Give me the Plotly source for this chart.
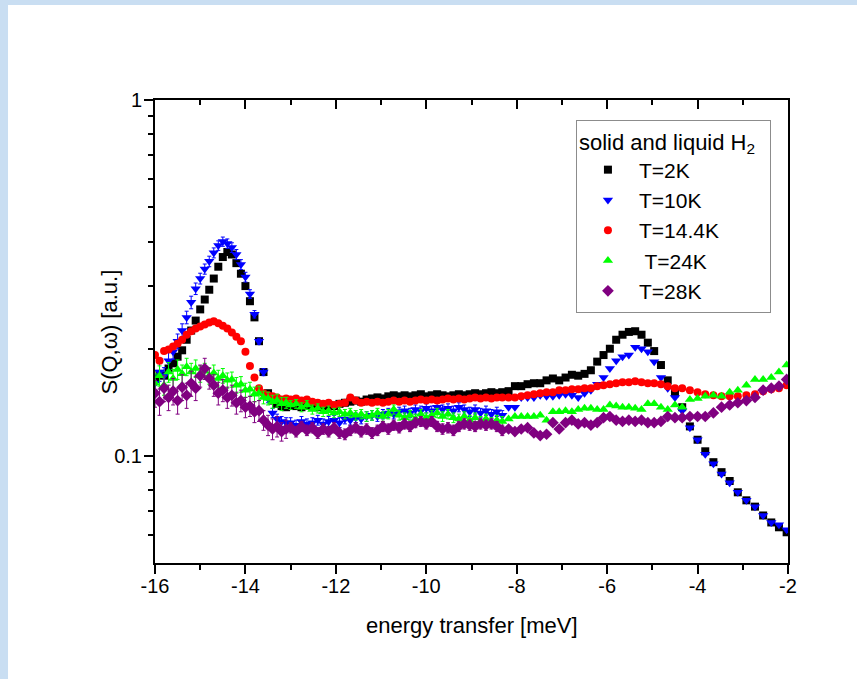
import plotly.graph_objects as go

# ---------------- data ----------------
energy = [
    -16.0, -15.9, -15.8, -15.7, -15.6, -15.5, -15.4, -15.3, -15.2, -15.1,
    -15.0, -14.9, -14.8, -14.7, -14.6, -14.5, -14.4, -14.3, -14.2, -14.1,
    -14.0, -13.9, -13.8, -13.7, -13.6, -13.5, -13.4, -13.3, -13.2, -13.1,
    -13.00, -12.88, -12.76, -12.64, -12.52, -12.40, -12.28, -12.16, -12.04, -11.92,
    -11.80, -11.68, -11.56, -11.44, -11.32, -11.20, -11.08, -10.96, -10.84, -10.72,
    -10.60, -10.48, -10.36, -10.24, -10.12, -10.00, -9.88, -9.76, -9.64, -9.52,
    -9.40, -9.28, -9.16, -9.04, -8.92, -8.80, -8.68, -8.56, -8.44, -8.32,
    -8.18, -8.04, -7.90, -7.76, -7.62, -7.48, -7.34, -7.20, -7.06, -6.92,
    -6.78, -6.64, -6.50, -6.36, -6.22, -6.08, -5.94, -5.80, -5.66, -5.52,
    -5.38, -5.24, -5.10, -4.96, -4.81, -4.66, -4.50, -4.34, -4.17, -4.00,
    -3.83, -3.65, -3.47, -3.29, -3.11, -2.92, -2.73, -2.55, -2.37, -2.20, -2.03,
]

s_2K = [
    0.165, 0.170, 0.168, 0.176, 0.182, 0.190, 0.198, 0.212, 0.225, 0.240,
    0.258, 0.275, 0.293, 0.315, 0.340, 0.362, 0.374, 0.368, 0.348, 0.325,
    0.300, 0.272, 0.245, 0.210, 0.172, 0.150, 0.143, 0.140, 0.138, 0.137,
    0.139, 0.138, 0.137, 0.139, 0.138, 0.137, 0.138, 0.139, 0.138, 0.140,
    0.141, 0.142, 0.143, 0.142, 0.144, 0.145, 0.146, 0.145, 0.147, 0.148,
    0.147, 0.148, 0.147, 0.148, 0.149, 0.147, 0.148, 0.149, 0.148, 0.147,
    0.148, 0.149, 0.148, 0.149, 0.150, 0.149, 0.150, 0.151, 0.150, 0.151,
    0.152, 0.157, 0.157, 0.159, 0.160, 0.160, 0.163, 0.165, 0.163, 0.166,
    0.169, 0.168, 0.170, 0.174, 0.184, 0.192, 0.200, 0.212, 0.219, 0.223,
    0.224, 0.219, 0.208, 0.197, 0.180, 0.163, 0.150, 0.137, 0.121, 0.111,
    0.103, 0.096, 0.090, 0.085, 0.079, 0.075, 0.072, 0.068, 0.065, 0.063, 0.061,
]

s_10K = [
    0.160, 0.172, 0.168, 0.185, 0.196, 0.210, 0.225, 0.245, 0.270, 0.295,
    0.315, 0.335, 0.352, 0.372, 0.390, 0.400, 0.395, 0.385, 0.368, 0.345,
    0.318, 0.285, 0.250, 0.210, 0.172, 0.145, 0.132, 0.127, 0.125, 0.124,
    0.124, 0.122, 0.125, 0.123, 0.124, 0.126, 0.123, 0.125, 0.126, 0.124,
    0.127, 0.126, 0.128, 0.127, 0.129, 0.130, 0.129, 0.131, 0.132, 0.131,
    0.133, 0.134, 0.132, 0.135, 0.134, 0.136, 0.134, 0.137, 0.135, 0.136,
    0.134, 0.137, 0.135, 0.133, 0.135, 0.132, 0.134, 0.131, 0.133, 0.130,
    0.137, 0.137, 0.146, 0.146, 0.146, 0.148, 0.147, 0.147, 0.148, 0.149,
    0.148, 0.146, 0.150, 0.153, 0.159, 0.166, 0.176, 0.185, 0.190, 0.192,
    0.202, 0.200, 0.196, 0.184, 0.166, 0.155, 0.146, 0.134, 0.120, 0.111,
    0.101, 0.095, 0.089, 0.084, 0.079, 0.075, 0.072, 0.068, 0.065, 0.064, 0.062,
]

s_14K = [
    0.192, 0.185, 0.197, 0.199, 0.203, 0.207, 0.212, 0.219, 0.224, 0.228,
    0.231, 0.234, 0.237, 0.239, 0.236, 0.232, 0.228, 0.222, 0.216, 0.210,
    0.196, 0.179, 0.166, 0.155, 0.150, 0.148, 0.147, 0.146, 0.144, 0.145,
    0.144, 0.145, 0.143, 0.144, 0.142, 0.141, 0.140, 0.141, 0.139, 0.140,
    0.141, 0.146, 0.143, 0.141, 0.142, 0.141, 0.142, 0.141, 0.142, 0.143,
    0.142, 0.143, 0.142, 0.143, 0.144, 0.143, 0.144, 0.143, 0.144, 0.145,
    0.144, 0.145, 0.144, 0.145, 0.146, 0.145, 0.146, 0.145, 0.146, 0.146,
    0.146, 0.146, 0.147, 0.148, 0.149, 0.150, 0.151, 0.151, 0.153, 0.153,
    0.154, 0.154, 0.155, 0.155, 0.157, 0.158, 0.159, 0.160, 0.161, 0.161,
    0.162, 0.161, 0.160, 0.160, 0.159, 0.157, 0.155, 0.155, 0.153, 0.151,
    0.149, 0.148, 0.147, 0.147, 0.147, 0.148, 0.149, 0.152, 0.154, 0.155, 0.158,
]

s_24K = [
    0.160, 0.168, 0.158, 0.172, 0.165, 0.175, 0.170, 0.178, 0.172, 0.176,
    0.170, 0.173, 0.168, 0.171, 0.165, 0.168, 0.163, 0.164, 0.158, 0.159,
    0.153, 0.154, 0.149, 0.150, 0.146, 0.145, 0.142, 0.143, 0.140, 0.141,
    0.139, 0.140, 0.137, 0.139, 0.135, 0.136, 0.133, 0.134, 0.132, 0.133,
    0.131, 0.132, 0.130, 0.131, 0.129, 0.130, 0.132, 0.129, 0.131, 0.135,
    0.130, 0.128, 0.130, 0.127, 0.131, 0.128, 0.130, 0.132, 0.129, 0.131,
    0.128, 0.127, 0.129, 0.126, 0.128, 0.125, 0.127, 0.124, 0.126, 0.125,
    0.127, 0.129, 0.129, 0.129, 0.129, 0.130, 0.126, 0.133, 0.133, 0.134,
    0.133, 0.135, 0.136, 0.136, 0.135, 0.135, 0.139, 0.138, 0.137, 0.137,
    0.136, 0.135, 0.140, 0.140, 0.137, 0.135, 0.139, 0.137, 0.144, 0.145,
    0.147, 0.148, 0.147, 0.151, 0.153, 0.158, 0.164, 0.164, 0.166, 0.172, 0.180,
]

s_28K = [
    0.150, 0.142, 0.155, 0.146, 0.152, 0.143, 0.156, 0.148, 0.160, 0.155,
    0.168, 0.176, 0.165, 0.158, 0.150, 0.153, 0.146, 0.148, 0.141, 0.143,
    0.137, 0.138, 0.133, 0.134, 0.126, 0.122, 0.119, 0.121, 0.117, 0.119,
    0.120, 0.117, 0.121, 0.118, 0.120, 0.116, 0.119, 0.117, 0.120, 0.116,
    0.115, 0.118, 0.120, 0.117, 0.119, 0.116, 0.118, 0.121, 0.119, 0.122,
    0.120, 0.123, 0.121, 0.124, 0.125, 0.123, 0.125, 0.121, 0.119, 0.120,
    0.118, 0.121, 0.123, 0.122, 0.121, 0.123, 0.122, 0.123, 0.121, 0.118,
    0.119, 0.117, 0.119, 0.120, 0.116, 0.114, 0.115, 0.124, 0.119, 0.124,
    0.126, 0.123, 0.124, 0.122, 0.124, 0.128, 0.129, 0.126, 0.125, 0.126,
    0.125, 0.126, 0.124, 0.124, 0.125, 0.129, 0.128, 0.128, 0.129, 0.129,
    0.129, 0.132, 0.137, 0.139, 0.141, 0.143, 0.146, 0.153, 0.155, 0.157, 0.164,
]

# error bars, low-energy region (first 30 points)
err_10K = [
    0.009, 0.010, 0.009, 0.010, 0.009, 0.010, 0.010, 0.010, 0.011, 0.011,
    0.011, 0.011, 0.012, 0.012, 0.012, 0.012, 0.012, 0.012, 0.012, 0.011,
    0.010, 0.008, 0.006, 0.004, 0.004, 0.004, 0.004, 0.004, 0.004, 0.004,
]
err_24K = [
    0.010, 0.011, 0.010, 0.011, 0.010, 0.011, 0.010, 0.010, 0.010, 0.010,
    0.009, 0.009, 0.009, 0.009, 0.009, 0.008, 0.008, 0.008, 0.008, 0.008,
    0.007, 0.007, 0.007, 0.007, 0.006, 0.006, 0.006, 0.006, 0.006, 0.005,
]
err_28K = [
    0.013, 0.012, 0.013, 0.012, 0.013, 0.012, 0.013, 0.012, 0.013, 0.012,
    0.012, 0.012, 0.011, 0.011, 0.011, 0.011, 0.010, 0.010, 0.010, 0.010,
    0.009, 0.009, 0.009, 0.009, 0.008, 0.008, 0.008, 0.008, 0.007, 0.007,
]

labels = ["T=2K", "T=10K", "T=14.4K", " T=24K", "T=28K"]
colors = ["#000000", "#0000ff", "#ff0000", "#00ff00", "#800080"]
symbols = ["square", "triangle-down", "circle", "triangle-up", "diamond"]
sizes = [8, 9, 8, 9, 9]
series = [s_2K, s_10K, s_14K, s_24K, s_28K]
errors = [None, err_10K, None, err_24K, err_28K]

x_ticks = [-16, -14, -12, -10, -8, -6, -4, -2]
x_tick_text = ["-16", "-14", "-12", "-10", "-8", "-6", "-4", "-2"]
x_minor = [-15, -13, -11, -9, -7, -5, -3]
y_ticks = [0.1, 1]
y_tick_text = ["0.1", "1"]
y_minor = [0.06, 0.07, 0.08, 0.09, 0.2, 0.3, 0.4, 0.5, 0.6, 0.7, 0.8, 0.9]

FONT = "Liberation Sans, Arial, sans-serif"

fig = go.Figure()
n = len(energy)
for i in range(5):
    err = errors[i]
    ey = None
    if err is not None:
        pad = [0.004] * 40 + [0.0] * (n - 70)
        ey = dict(type="data", array=err + pad, color=colors[i],
                  thickness=1, width=2)
    fig.add_trace(go.Scatter(
        x=energy, y=series[i], mode="markers", name=labels[i],
        legendgroup="g%d" % i,
        marker=dict(symbol=symbols[i], size=sizes[i], color=colors[i],
                    line=dict(width=0)),
        error_y=ey, cliponaxis=True,
    ))

# invisible companion trace so the top (mirror) axis with inward ticks is drawn
fig.add_trace(go.Scatter(
    x=energy, y=s_2K, xaxis="x2", yaxis="y", mode="markers",
    marker=dict(opacity=0, size=1), showlegend=False, hoverinfo="skip",
))

fig.update_layout(
    width=857, height=679,
    margin=dict(l=155, r=69, t=100, b=116),
    paper_bgcolor="white", plot_bgcolor="white",
    font=dict(family=FONT, size=20, color="black"),
    showlegend=True,
    legend=dict(
        x=0.665, y=0.957, xanchor="left", yanchor="top",
        bgcolor="white", bordercolor="#8c8c8c", borderwidth=1,
        font=dict(family=FONT, size=21, color="black"),
        title=dict(text="solid and liquid H<sub>2</sub>\u00a0\u00a0",
                   font=dict(family=FONT, size=22, color="black")),
        tracegroupgap=0, itemwidth=52,
    ),
    xaxis=dict(
        range=[-16, -2], showgrid=False, zeroline=False,
        showline=True, linecolor="black", linewidth=2,
        ticks="outside", tickvals=x_ticks, ticktext=x_tick_text,
        ticklen=9, tickwidth=1.5, ticklabelstandoff=-5,
        tickcolor="black", tickfont=dict(size=20),
        minor=dict(ticks="outside", tickvals=x_minor, ticklen=5,
                   tickwidth=1.5, tickcolor="black"),
    ),
    xaxis2=dict(
        overlaying="x", side="top", anchor="y", range=[-16, -2],
        showgrid=False, zeroline=False, showticklabels=False,
        showline=True, linecolor="black", linewidth=2,
        ticks="inside", tickvals=x_ticks, ticklen=9, tickwidth=1.5,
        tickcolor="black",
        minor=dict(ticks="inside", tickvals=x_minor, ticklen=5,
                   tickwidth=1.5, tickcolor="black"),
    ),
    yaxis=dict(
        type="log", range=[-1.30103, 0], showgrid=False, zeroline=False,
        showline=True, linecolor="black", linewidth=2, mirror=True,
        ticks="outside", tickvals=y_ticks, ticktext=y_tick_text,
        ticklen=9, tickwidth=1.5, tickcolor="black", tickfont=dict(size=20),
        ticklabelstandoff=-2,
        minor=dict(ticks="outside", tickvals=y_minor, ticklen=5,
                   tickwidth=1.5, tickcolor="black"),
    ),
    annotations=[
        dict(text="energy transfer [meV]", xref="paper", yref="paper",
             x=0.5, y=-0.134, xanchor="center", yanchor="middle",
             showarrow=False, font=dict(family=FONT, size=22)),
        dict(text="S(Q,ω) [a.u.]", xref="paper", yref="paper",
             x=-0.0711, y=0.5, xanchor="center", yanchor="middle",
             textangle=-90, showarrow=False,
             font=dict(family=FONT, size=22)),
    ],
    shapes=[
        dict(type="rect", xref="paper", yref="paper", layer="below",
             x0=-0.2449, x1=-0.2322, y0=-0.26, y1=1.22,
             fillcolor="#c9def2", line=dict(width=0)),
        dict(type="rect", xref="paper", yref="paper", layer="below",
             x0=-0.2449, x1=1.12, y0=1.2052, y1=1.22,
             fillcolor="#c9def2", line=dict(width=0)),
    ],
)

fig.write_html(
    "out.html",
    config={"displayModeBar": False},
    post_script="document.body.style.margin='0';document.body.style.padding='0';",
)
